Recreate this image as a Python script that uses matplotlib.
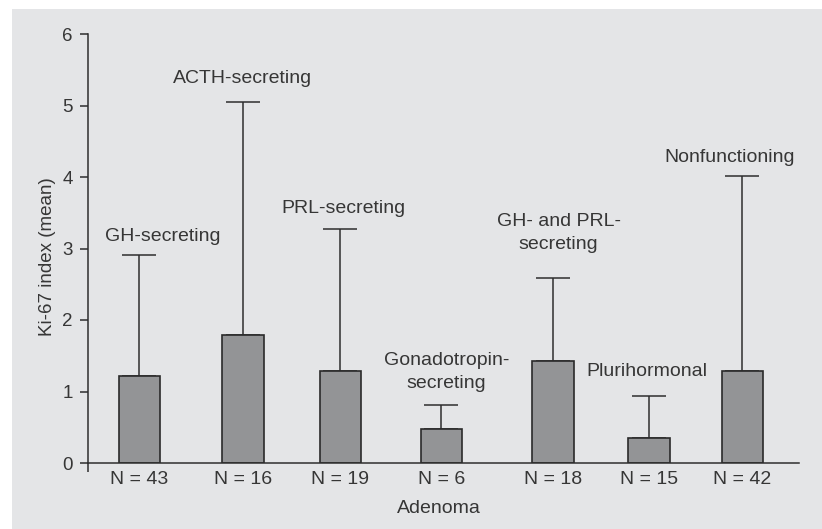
import matplotlib

matplotlib.use("Agg")
import matplotlib.pyplot as plt
from matplotlib.patches import Rectangle

# data
groups = ["GH-secreting", "ACTH-secreting", "PRL-secreting", "Gonadotropin-\nsecreting",
          "GH- and PRL-\nsecreting", "Plurihormonal", "Nonfunctioning"]
n_counts = [43, 16, 19, 6, 18, 15, 42]
ki67_mean = [1.21, 1.79, 1.29, 0.47, 1.42, 0.35, 1.28]
ki67_err = [1.70, 3.26, 1.98, 0.34, 1.17, 0.59, 2.74]

# layout (data units on the x axis, 0..10); label_y = baseline of last line
bar_pos = [0.724, 2.18, 3.55, 4.97, 6.54, 7.89, 9.20]
label_x = [1.055, 2.18, 3.59, 5.04, 6.62, 7.86, 9.03]
label_y = [3.10, 5.31, 3.50, 1.05, 3.00, 1.22, 4.21]

TXT = "#363636"
BG = "#e4e5e7"
plt.rcParams["font.family"] = ["Liberation Sans", "DejaVu Sans"]

fig = plt.figure(figsize=(8.22, 5.29), dpi=100)
fig.patches.append(Rectangle((12 / 822, 0), 1, 1 - 9 / 529, transform=fig.transFigure,
                             facecolor=BG, edgecolor="none", zorder=-10))

ax = fig.add_axes([88 / 822, 66 / 529, 711 / 822, 429 / 529])
ax.patch.set_visible(False)

ax.errorbar(bar_pos, ki67_mean, yerr=[[0] * len(ki67_err), ki67_err], fmt="none",
            ecolor="#2e2e2e", elinewidth=1.1, capsize=12, capthick=1.1, zorder=1)
ax.bar(bar_pos, ki67_mean, width=0.58, color="#939496", edgecolor="#2a2a2a",
       linewidth=1.2, zorder=2)

for x, y, name in zip(label_x, label_y, groups):
    ax.text(x, y, name, ha="center", va="baseline", fontsize=14, color=TXT,
            linespacing=1.45)

ax.set_xlim(0, 10)
ax.set_ylim(0, 6)
ax.set_yticks(range(7))
ax.set_xticks(bar_pos)
ax.set_xticklabels([f"N = {n}" for n in n_counts])
ax.tick_params(axis="x", length=0, pad=6, labelsize=14, labelcolor=TXT)
ax.tick_params(axis="y", length=6, width=1.1, pad=5, labelsize=13.5,
               labelcolor=TXT, color="#2e2e2e")
ax.set_xticks([0], minor=True)
ax.tick_params(axis="x", which="minor", length=6.5, width=1.1, color="#2e2e2e")

for side in ["top", "right"]:
    ax.spines[side].set_visible(False)
for side in ["left", "bottom"]:
    ax.spines[side].set_linewidth(1.1)
    ax.spines[side].set_color("#2e2e2e")

fig.text(47 / 822, 1 - 257 / 529, "Ki-67 index (mean)", rotation=90, ha="center",
         va="center", fontsize=13.5, color=TXT)
fig.text(439 / 822, 1 - 513 / 529, "Adenoma", ha="center", va="baseline",
         fontsize=14, color=TXT)

fig.savefig("out.png", dpi=100)
